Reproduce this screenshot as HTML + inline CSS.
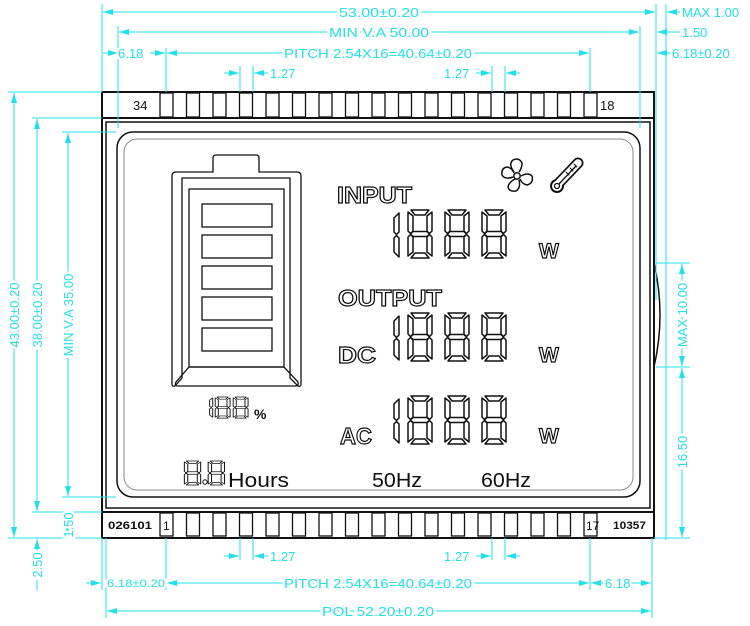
<!DOCTYPE html>
<html><head><meta charset="utf-8"><style>
html,body{margin:0;padding:0;background:#fff;}
svg{display:block;}
.d{font-family:"Liberation Sans",sans-serif;font-size:13px;fill:#22e0ea;stroke:#fff;stroke-width:5px;paint-order:stroke;}
.c{stroke:#22e0ea;stroke-width:1;fill:none;}
.k{stroke:#111;fill:none;}
.seg path{fill:#fff;stroke:#111;stroke-width:1.5;stroke-linejoin:round;}
.o{font-family:"Liberation Sans",sans-serif;fill:#fff;stroke:#111;stroke-width:1.2;font-weight:bold;}
.t{font-family:"Liberation Sans",sans-serif;fill:#111;}
</style></head><body>
<svg width="750" height="626" viewBox="0 0 750 626" xmlns="http://www.w3.org/2000/svg">
<defs>
<marker id="a" viewBox="0 0 10 6" refX="10" refY="3" markerWidth="10" markerHeight="6" orient="auto-start-reverse" markerUnits="userSpaceOnUse"><path d="M0,0 L10,3 L0,6 Z" fill="#22e0ea"/></marker>
<g id="d8" class="seg">
<path d="M5,0 H23 L19,5 H9 Z"/>
<path d="M7,21.5 H21 L23.5,24 L21,26.5 H7 L4.5,24 Z"/>
<path d="M9,43 H19 L23,48 H5 Z"/>
<path d="M2,2 L7,6 V21 L4.5,23.5 L2,21 Z"/>
<path d="M26,2 L21,6 V21 L23.5,23.5 L26,21 Z"/>
<path d="M2,27 L4.5,24.5 L7,27 V42 L2,46 Z"/>
<path d="M26,27 L23.5,24.5 L21,27 V42 L26,46 Z"/>
</g>
<g id="d1" class="seg">
<path d="M6,2 L1,7 V21 L3.5,23.5 L6,21 Z"/>
<path d="M6,27 L3.5,24.5 L1,27 V41 L6,46 Z"/>
</g>
</defs>

<rect x="102" y="92" width="552" height="446" class="k" stroke-width="2"/>
<line x1="102" y1="118" x2="654" y2="118" class="k" stroke-width="2"/>
<line x1="102" y1="512" x2="654" y2="512" class="k" stroke-width="2"/>
<rect x="106" y="122" width="544" height="386" class="k" stroke-width="1.5"/>
<rect x="117" y="132" width="523" height="365" rx="16" class="k" stroke-width="1.5"/>
<rect x="124" y="139" width="509" height="351" rx="13" fill="none" stroke="#888" stroke-width="1"/>
<path d="M654,263 Q666,315 654,367" class="k" stroke-width="1.5"/>

<g class="k" stroke-width="1.3">
<rect x="160" y="93" width="13" height="24"/><rect x="186.5" y="93" width="13" height="24"/><rect x="213" y="93" width="13" height="24"/><rect x="239.5" y="93" width="13" height="24"/><rect x="266" y="93" width="13" height="24"/><rect x="292.5" y="93" width="13" height="24"/><rect x="319" y="93" width="13" height="24"/><rect x="345.5" y="93" width="13" height="24"/><rect x="372" y="93" width="13" height="24"/><rect x="398.5" y="93" width="13" height="24"/><rect x="425" y="93" width="13" height="24"/><rect x="451.5" y="93" width="13" height="24"/><rect x="478" y="93" width="13" height="24"/><rect x="504.5" y="93" width="13" height="24"/><rect x="531" y="93" width="13" height="24"/><rect x="557.5" y="93" width="13" height="24"/><rect x="584" y="93" width="13" height="24"/>
<rect x="160" y="513" width="13" height="23"/><rect x="186.5" y="513" width="13" height="23"/><rect x="213" y="513" width="13" height="23"/><rect x="239.5" y="513" width="13" height="23"/><rect x="266" y="513" width="13" height="23"/><rect x="292.5" y="513" width="13" height="23"/><rect x="319" y="513" width="13" height="23"/><rect x="345.5" y="513" width="13" height="23"/><rect x="372" y="513" width="13" height="23"/><rect x="398.5" y="513" width="13" height="23"/><rect x="425" y="513" width="13" height="23"/><rect x="451.5" y="513" width="13" height="23"/><rect x="478" y="513" width="13" height="23"/><rect x="504.5" y="513" width="13" height="23"/><rect x="531" y="513" width="13" height="23"/><rect x="557.5" y="513" width="13" height="23"/><rect x="584" y="513" width="13" height="23"/>
</g>
<text x="133" y="110" class="t" font-size="13">34</text>
<text x="600" y="110" class="t" font-size="13">18</text>
<text x="108" y="529" class="t" font-size="11" font-weight="bold" textLength="44" lengthAdjust="spacingAndGlyphs">026101</text>
<text x="163" y="530" class="t" font-size="12">1</text>
<text x="586" y="530" class="t" font-size="12">17</text>
<text x="613" y="529" class="t" font-size="11" font-weight="bold" textLength="33" lengthAdjust="spacingAndGlyphs">10357</text>

<!-- battery -->
<path d="M216,155 H256 Q259,155 259,158 V172 H297 Q301,172 301,176 V384 Q301,387 298,386 L290,378 V178 H182 V378 L175,386 Q172,387 172,384 V176 Q172,172 176,172 H213 V158 Q213,155 216,155 Z" class="k" stroke-width="1.3"/>
<rect x="189" y="189" width="95" height="178" class="k" stroke-width="1.3"/>
<path d="M189,367 H284 L298,382 Q299,386 295,386 H178 Q174,386 176,382 Z" class="k" stroke-width="1.3"/>
<g class="k" stroke-width="1.3">
<rect x="202" y="204" width="70" height="23"/><rect x="202" y="235" width="70" height="23"/><rect x="202" y="266" width="70" height="23"/><rect x="202" y="297" width="70" height="23"/><rect x="202" y="328" width="70" height="23"/>
</g>

<text x="337" y="203" class="o" font-size="23" textLength="75" lengthAdjust="spacingAndGlyphs">INPUT</text>
<text x="338" y="306" class="o" font-size="23" textLength="104" lengthAdjust="spacingAndGlyphs">OUTPUT</text>
<text x="338" y="363" class="o" font-size="23" textLength="38" lengthAdjust="spacingAndGlyphs">DC</text>
<text x="340" y="444" class="o" font-size="23" textLength="32" lengthAdjust="spacingAndGlyphs">AC</text>
<text x="539" y="258" class="o" font-size="21">W</text>
<text x="539" y="362" class="o" font-size="21">W</text>
<text x="539" y="443" class="o" font-size="21">W</text>

<use href="#d1" x="393" y="211"/><use href="#d8" x="406" y="210"/><use href="#d8" x="443" y="210"/><use href="#d8" x="480" y="210"/>
<use href="#d1" x="393" y="314"/><use href="#d8" x="406" y="313"/><use href="#d8" x="443" y="313"/><use href="#d8" x="480" y="313"/>
<use href="#d1" x="393" y="397"/><use href="#d8" x="406" y="396"/><use href="#d8" x="443" y="396"/><use href="#d8" x="480" y="396"/>

<g transform="translate(209,397) scale(0.62,0.44)"><use href="#d1" x="0" y="0"/><use href="#d8" x="8" y="0"/><use href="#d8" x="37" y="0"/></g>
<text x="254" y="419" class="t" font-size="14" font-weight="bold">%</text>
<g transform="translate(183,461) scale(0.68,0.5)"><use href="#d8" x="0" y="0"/><use href="#d8" x="35" y="0"/></g>
<circle cx="205" cy="482" r="2.2" fill="#fff" stroke="#111"/>
<text x="228" y="487" class="t" font-size="20" textLength="61" lengthAdjust="spacingAndGlyphs">Hours</text>
<text x="372" y="487" class="t" font-size="20" textLength="50" lengthAdjust="spacingAndGlyphs">50Hz</text>
<text x="481" y="487" class="t" font-size="20" textLength="50" lengthAdjust="spacingAndGlyphs">60Hz</text>

<!-- fan -->
<g class="k" stroke-width="1.5">
<circle cx="517" cy="176" r="3.2"/>
<path d="M514,172 Q508,164 513,160 Q519,157 522,163 Q522,168 519,172"/>
<path d="M521,176 Q528,172 532,176 Q534,183 527,185 Q522,184 520,179"/>
<path d="M519,180 Q521,188 516,191 Q509,192 508,187 Q509,182 515,179"/>
<path d="M513,177 Q505,180 502,175 Q501,168 507,167 Q512,168 514,173"/>
</g>
<!-- thermometer -->
<g fill="none" stroke-linecap="round">
<line x1="557" y1="185" x2="578" y2="163" stroke="#111" stroke-width="11"/>
<circle cx="557" cy="186" r="7" fill="#111"/>
<line x1="557" y1="185" x2="578" y2="163" stroke="#fff" stroke-width="7.5"/>
<circle cx="557" cy="186" r="5" fill="#fff"/>
<circle cx="557" cy="186" r="2.5" stroke="#111" stroke-width="1.3"/>
<line x1="559" y1="184" x2="576" y2="166" stroke="#111" stroke-width="1.3"/>
<path d="M566,172 l3,3 M570,168 l3,3 M574,164 l3,3" stroke="#111" stroke-width="1"/>
</g>

<g class="c">
<line x1="102" y1="4" x2="102" y2="92"/><line x1="118" y1="26" x2="118" y2="128"/><line x1="166" y1="48" x2="166" y2="92"/><line x1="590" y1="48" x2="590" y2="92"/>
<line x1="640" y1="26" x2="640" y2="128"/><line x1="656" y1="4" x2="656" y2="300"/><line x1="666" y1="4" x2="666" y2="540"/>
<line x1="240" y1="66" x2="240" y2="92"/><line x1="253" y1="66" x2="253" y2="92"/><line x1="492" y1="66" x2="492" y2="92"/><line x1="505" y1="66" x2="505" y2="92"/>
<line x1="103" y1="12" x2="655" y2="12" marker-start="url(#a)" marker-end="url(#a)"/>
<line x1="119" y1="32" x2="639" y2="32" marker-start="url(#a)" marker-end="url(#a)"/>
<line x1="103" y1="53" x2="118" y2="53" marker-end="url(#a)"/>
<line x1="150" y1="53" x2="165" y2="53" marker-end="url(#a)"/>
<line x1="167" y1="53" x2="589" y2="53" marker-start="url(#a)" marker-end="url(#a)"/>
<line x1="672" y1="53" x2="657" y2="53" marker-end="url(#a)"/>
<line x1="680" y1="12" x2="667" y2="12" marker-end="url(#a)"/>
<line x1="680" y1="32" x2="657" y2="32" marker-end="url(#a)"/>
<line x1="224" y1="73" x2="239" y2="73" marker-end="url(#a)"/>
<line x1="268" y1="73" x2="254" y2="73" marker-end="url(#a)"/>
<line x1="476" y1="73" x2="491" y2="73" marker-end="url(#a)"/>
<line x1="520" y1="73" x2="506" y2="73" marker-end="url(#a)"/>

<line x1="102" y1="538" x2="102" y2="590"/><line x1="106" y1="538" x2="106" y2="618"/><line x1="166" y1="538" x2="166" y2="590"/><line x1="590" y1="538" x2="590" y2="590"/><line x1="652" y1="538" x2="652" y2="618"/>
<line x1="240" y1="538" x2="240" y2="560"/><line x1="253" y1="538" x2="253" y2="560"/><line x1="492" y1="538" x2="492" y2="560"/><line x1="505" y1="538" x2="505" y2="560"/>
<line x1="224" y1="556" x2="239" y2="556" marker-end="url(#a)"/>
<line x1="268" y1="556" x2="254" y2="556" marker-end="url(#a)"/>
<line x1="476" y1="556" x2="491" y2="556" marker-end="url(#a)"/>
<line x1="520" y1="556" x2="506" y2="556" marker-end="url(#a)"/>
<line x1="86" y1="583" x2="101" y2="583" marker-end="url(#a)"/>
<line x1="167" y1="583" x2="589" y2="583" marker-start="url(#a)" marker-end="url(#a)"/>
<line x1="591" y1="583" x2="651" y2="583" marker-start="url(#a)" marker-end="url(#a)"/>
<line x1="107" y1="611" x2="651" y2="611" marker-start="url(#a)" marker-end="url(#a)"/>

<line x1="8" y1="92" x2="102" y2="92"/><line x1="8" y1="538" x2="102" y2="538"/>
<line x1="32" y1="118" x2="102" y2="118"/><line x1="32" y1="512" x2="102" y2="512"/>
<line x1="62" y1="132" x2="116" y2="132"/><line x1="62" y1="497" x2="116" y2="497"/>
<line x1="14" y1="93" x2="14" y2="537" marker-start="url(#a)" marker-end="url(#a)"/>
<line x1="37" y1="119" x2="37" y2="511" marker-start="url(#a)" marker-end="url(#a)"/>
<line x1="68" y1="133" x2="68" y2="496" marker-start="url(#a)" marker-end="url(#a)"/>
<line x1="68" y1="513" x2="68" y2="537" marker-start="url(#a)" marker-end="url(#a)"/>
<line x1="37" y1="590" x2="37" y2="539" marker-end="url(#a)"/>

<line x1="656" y1="263" x2="690" y2="263"/><line x1="656" y1="367" x2="690" y2="367"/><line x1="654" y1="538" x2="690" y2="538"/>
<line x1="682" y1="264" x2="682" y2="366" marker-start="url(#a)" marker-end="url(#a)"/>
<line x1="682" y1="368" x2="682" y2="537" marker-start="url(#a)" marker-end="url(#a)"/>
</g>
<g class="d">
<text x="339" y="17" textLength="80" lengthAdjust="spacingAndGlyphs">53.00±0.20</text>
<text x="329" y="37" textLength="100" lengthAdjust="spacingAndGlyphs">MIN V.A 50.00</text>
<text x="118" y="58">6.18</text>
<text x="284" y="58" textLength="188" lengthAdjust="spacingAndGlyphs">PITCH 2.54X16=40.64±0.20</text>
<text x="672" y="58">6.18±0.20</text>
<text x="682" y="17">MAX 1.00</text>
<text x="682" y="37">1.50</text>
<text x="270" y="78">1.27</text>
<text x="444" y="78">1.27</text>
<text x="270" y="561">1.27</text>
<text x="444" y="561">1.27</text>
<text x="107" y="587" font-size="11" textLength="58" lengthAdjust="spacingAndGlyphs">6.18±0.20</text>
<text x="284" y="588" textLength="188" lengthAdjust="spacingAndGlyphs">PITCH 2.54X16=40.64±0.20</text>
<text x="605" y="588">6.18</text>
<text x="322" y="616" textLength="112" lengthAdjust="spacingAndGlyphs">POL 52.20±0.20</text>
<text transform="translate(19,315) rotate(-90)" text-anchor="middle">43.00±0.20</text>
<text transform="translate(42,315) rotate(-90)" text-anchor="middle">38.00±0.20</text>
<text transform="translate(73,315) rotate(-90)" text-anchor="middle">MIN V.A 35.00</text>
<text transform="translate(73,525) rotate(-90)" text-anchor="middle">1.50</text>
<text transform="translate(42,565) rotate(-90)" text-anchor="middle">2.50</text>
<text transform="translate(687,315) rotate(-90)" text-anchor="middle">MAX 10.00</text>
<text transform="translate(687,452) rotate(-90)" text-anchor="middle">16.50</text>
</g>
</svg>
</body></html>
